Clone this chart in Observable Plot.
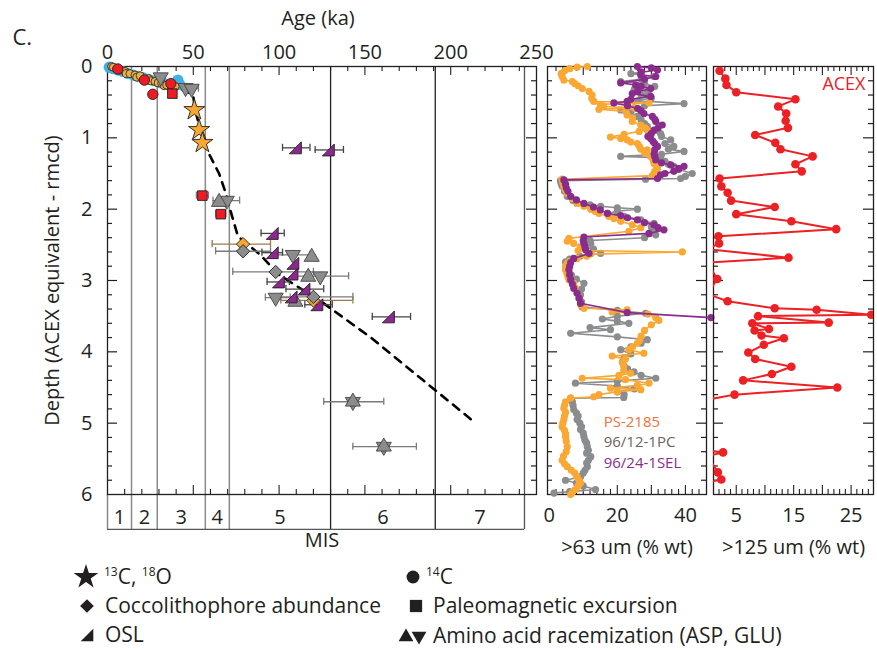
<!DOCTYPE html>
<html><head><meta charset="utf-8">
<script src="https://cdn.jsdelivr.net/npm/d3@7"></script>
<script src="https://cdn.jsdelivr.net/npm/@observablehq/plot@0.6"></script>
<style>
body{margin:0;background:#fff;}
#wrap{position:relative;width:877px;height:650px;overflow:hidden;background:#fff;}
#wrap svg{position:absolute;left:0;top:0;}
</style></head><body><div id="wrap"></div>
<script>
// ---------------- data ----------------
const ageTicks = [0, 50, 100, 150, 200, 250];
const depthTicks = [0, 1, 2, 3, 4, 5, 6];
const misBounds = [0, 14, 29, 57, 71, 130, 191, 243];
const misLabels = ["1", "2", "3", "4", "5", "6", "7"];

// age model (dashed)
const trendAge   = [44, 50, 51, 54, 56, 58, 65, 69, 72, 76, 89, 100, 126, 154, 184, 212];
const trendDepth = [0.29, 0.42, 0.6, 0.88, 1.06, 1.17, 1.5, 1.78, 2.05, 2.38, 2.64, 2.92, 3.32, 3.81, 4.4, 4.95];

// 14C small cluster (blue = background dates, orange = stratigraphic dates)
const blueAge   = [1, 3, 6, 9, 12, 15, 18, 21, 24, 27, 30, 33, 36, 39, 41, 42];
const blueDepth = [0.01, 0.03, 0.05, 0.07, 0.1, 0.12, 0.14, 0.16, 0.18, 0.2, 0.22, 0.24, 0.26, 0.27, 0.19, 0.25];
const tanAge    = [2.4, 3.4, 7.3, 10.2, 11, 13.1, 16, 17, 19, 22.9, 24, 25, 27.7, 29.5, 31.6, 33, 34.5, 37, 39.4];
const tanDepth  = [0.0, 0.01, 0.05, 0.07, 0.1, 0.1, 0.12, 0.15, 0.13, 0.18, 0.17, 0.2, 0.21, 0.23, 0.24, 0.27, 0.26, 0.27, 0.28];

// 14C (red circles)
const c14Age   = [6, 21.5, 36.9, 26.4];
const c14Depth = [0.035, 0.19, 0.24, 0.39];

// 13C, 18O (stars)
const isoAge   = [50.6, 53.4, 55.3];
const isoDepth = [0.61, 0.89, 1.07];

// paleomagnetic excursions (squares)
const pmagAge   = [37.8, 55.3, 66];
const pmagDepth = [0.38, 1.81, 2.07];
const pmagLo    = [null, 51.8, 63];
const pmagHi    = [null, 58.8, 69];

// amino acid racemization (triangles up / down)
const aarUpAge     = [65, 119, 117, 109.5, 143, 161];
const aarUpDepth   = [1.9, 2.67, 2.95, 3.3, 4.7, 5.33];
const aarDownAge   = [31, 45.5, 49, 69.5, 108, 124, 98, 143, 161];
const aarDownDepth = [0.15, 0.3, 0.31, 1.88, 2.64, 2.94, 3.24, 4.7, 5.33];
const aarDownLo    = [null, 43, 45.5, 61.5, 99, 110, 92, 126, 143];
const aarDownHi    = [null, 48, 53, 77, 118, 140.5, 106.5, 161, 180];

// coccolithophore abundance (diamonds)
const coccoOrangeAge   = [79, 120];
const coccoOrangeDepth = [2.49, 3.28];
const coccoOrangeLo    = [61, 101];
const coccoOrangeHi    = [95, 143];
const coccoGrayAge     = [79, 98, 120];
const coccoGrayDepth   = [2.59, 2.88, 3.23];
const coccoGrayLo      = [63, 73, 101];
const coccoGrayHi      = [95, 120, 143];

// OSL (half triangles)
const oslAge   = [109.5, 128.7, 96, 96, 108, 107.5, 99.6, 114.5, 107, 122, 163.7];
const oslDepth = [1.14, 1.17, 2.34, 2.61, 2.76, 2.91, 3.02, 3.12, 3.23, 3.34, 3.51];
const oslLo    = [102, 121, 89.5, 90, null, null, 93, 104, null, 115, 154.3];
const oslHi    = [118, 137.5, 103, 102, null, null, 106, 126, null, 131, 176.6];

// >63 um (% wt) : [depth, value]
const ps2185 = [[0,11.2],[0.01,8.2],[0.03,6],[0.06,4.5],[0.1,3.5],[0.14,3.8],[0.19,4.3],[0.21,6.8],[0.24,7.5],[0.27,8.5],[0.31,9.7],[0.35,11.7],[0.4,12.6],[0.45,12.5],[0.49,13.1],[0.51,29.3],[0.53,15],[0.56,16],[0.58,25],[0.6,14.6],[0.63,22.5],[0.68,22.9],[0.72,24.5],[0.77,24.4],[0.82,26.9],[0.86,28.2],[0.89,28.8],[0.91,26.4],[0.95,22],[0.99,18],[1.01,21],[1.03,22.9],[1.06,24],[1.08,25.9],[1.12,26.5],[1.16,26.9],[1.17,28.8],[1.21,28],[1.26,29.8],[1.31,30.5],[1.36,30.8],[1.4,31.5],[1.43,31.8],[1.47,31],[1.51,30.8],[1.53,30.3],[1.58,3.8],[1.63,4],[1.68,4.3],[1.73,4.8],[1.78,5.3],[1.85,6.8],[1.92,8.2],[1.96,10.2],[2,12.2],[2.03,13.5],[2.06,14.6],[2.1,17.5],[2.13,19],[2.17,21],[2.22,24.4],[2.26,26.9],[2.31,23.4],[2.41,5.8],[2.45,5.3],[2.48,7.2],[2.53,9.2],[2.58,8.5],[2.6,39.1],[2.63,12.2],[2.66,11],[2.69,8.2],[2.73,6],[2.76,5.3],[2.8,4.8],[2.85,4.8],[2.9,5.2],[2.95,5.5],[2.99,5.8],[3.04,7.2],[3.1,7.6],[3.18,8.2],[3.25,8.7],[3.34,9.2],[3.39,10.2],[3.41,22.9],[3.44,18.5],[3.47,29],[3.52,31.3],[3.56,32.2],[3.62,30],[3.7,28],[3.78,27],[3.84,26.5],[3.88,25.9],[3.93,24.5],[3.97,23.4],[4.02,27.8],[4.06,18.5],[4.1,22.4],[4.15,21.5],[4.2,21.9],[4.26,21.9],[4.3,23.9],[4.33,20.5],[4.37,9.7],[4.39,22.4],[4.44,29.3],[4.47,25.9],[4.51,18],[4.53,26.9],[4.56,20],[4.6,14.6],[4.63,13.1],[4.65,6.3],[4.7,4.8],[4.75,4.5],[4.79,4.3],[4.85,4.8],[4.9,4.5],[4.95,4.3],[5,4],[5.05,3.8],[5.1,4.5],[5.15,4.8],[5.19,4.8],[5.25,5],[5.33,5.3],[5.4,5],[5.46,4.2],[5.52,3.8],[5.57,4.5],[5.61,5.3],[5.66,6.5],[5.7,7.5],[5.75,8.2],[5.8,8.8],[5.84,9.2],[5.88,8.5],[5.93,7.7],[5.97,6.8],[6,6.3]];
const pc9612 = [[0.08,27],[0.1,24],[0.14,30.8],[0.18,27],[0.21,21],[0.24,28],[0.28,31],[0.32,25],[0.36,29],[0.4,27],[0.44,30],[0.48,26],[0.52,39.6],[0.55,28],[0.58,25],[0.61,21],[0.65,24],[0.7,25.9],[0.75,27],[0.8,28],[0.84,28.8],[0.9,31],[0.94,32.7],[0.98,33],[1.03,35.7],[1.08,34],[1.12,36.6],[1.16,35],[1.19,39.6],[1.23,33],[1.26,21],[1.28,32.7],[1.33,34],[1.37,35],[1.4,36.6],[1.44,38],[1.5,42],[1.54,40],[1.57,38.6],[1.58,28.3],[1.6,3.3],[1.64,3.5],[1.68,3.8],[1.75,4.5],[1.82,5.3],[1.88,7],[1.92,8.2],[1.94,12],[1.96,15.1],[1.98,20],[2,25.9],[2.03,20],[2.06,17.1],[2.1,22],[2.15,26.9],[2.2,30.8],[2.25,30],[2.3,31],[2.36,31.3],[2.4,28],[2.44,12],[2.48,12.2],[2.52,10],[2.56,13],[2.62,15.1],[2.66,9],[2.7,6],[2.74,4.8],[2.8,5],[2.85,5.3],[2.92,6.5],[2.98,8],[3.04,10.2],[3.12,9.5],[3.2,9.2],[3.3,9.5],[3.37,9.7],[3.42,20],[3.46,28.3],[3.5,20],[3.54,15.6],[3.57,20],[3.6,23.4],[3.66,12],[3.69,18],[3.74,6.3],[3.79,20],[3.83,28.8],[3.88,27],[3.93,24],[3.97,21],[4.03,24],[4.08,22],[4.14,21.5],[4.2,22],[4.24,23],[4.28,24.9],[4.33,27],[4.37,31.3],[4.41,20],[4.44,7.7],[4.48,20],[4.52,25],[4.56,20],[4.6,22],[4.64,21.9],[4.65,6.3],[4.7,6.8],[4.75,7],[4.81,7.2],[4.86,8],[4.9,8.5],[4.95,8.2],[5,9],[5.05,9.5],[5.09,9.2],[5.14,10],[5.19,10.2],[5.24,10.5],[5.28,11],[5.33,11.2],[5.38,11.5],[5.42,11],[5.47,12.2],[5.52,11.5],[5.56,11],[5.61,11.2],[5.66,10.5],[5.7,10],[5.75,9.2],[5.8,4.8],[5.84,8],[5.88,10],[5.93,13.6],[5.96,6],[5.98,1.4]];
const sel9624 = [[0,25.9],[0.02,30],[0.05,31.8],[0.08,27],[0.12,26.9],[0.14,31.3],[0.18,28],[0.23,21],[0.26,25.4],[0.28,27],[0.31,29.8],[0.35,26],[0.38,24.4],[0.42,29.8],[0.46,24],[0.49,22.9],[0.51,19],[0.55,23],[0.59,26],[0.62,27],[0.66,27.8],[0.7,30.3],[0.74,31],[0.77,31.3],[0.82,33.2],[0.86,32],[0.89,30.8],[0.94,30],[0.98,29],[1.01,29.8],[1.05,30.5],[1.08,31],[1.12,31.8],[1.17,31],[1.22,30.8],[1.26,31],[1.31,31.3],[1.35,33],[1.38,35.7],[1.4,39.6],[1.44,38],[1.47,36.6],[1.5,34],[1.52,32.7],[1.57,31.8],[1.59,4.3],[1.65,4.8],[1.7,5],[1.75,5.5],[1.82,6.3],[1.87,8],[1.92,10.2],[1.97,13],[2.01,15],[2.06,17.1],[2.09,21],[2.12,23],[2.15,25.9],[2.19,28],[2.22,30.8],[2.26,32],[2.29,33.7],[2.34,29.3],[2.39,10.2],[2.44,10],[2.48,10.2],[2.53,10.5],[2.57,10.7],[2.62,11.7],[2.69,7.2],[2.75,6.3],[2.8,6],[2.85,5.8],[2.92,6],[2.99,6.3],[3.05,6.8],[3.11,7.2],[3.18,8.2],[3.25,8.8],[3.32,9.2],[3.45,22.9],[3.52,47.5]];
const p2Ticks = [0, 20, 40];
const p2SeriesNames = ["PS-2185", "96/12-1PC", "96/24-1SEL"];

// >125 um (% wt) ACEX : [depth, value]
const acex = [[0.06,2.1],[0.17,3.1],[0.26,3.3],[0.36,5],[0.46,15.3],[0.56,12.3],[0.66,13.7],[0.76,13.6],[0.86,14],[0.96,8.3],[1.07,11.8],[1.16,12.7],[1.26,18.3],[1.37,15.3],[1.47,16.4],[1.57,2.1],[1.68,2.4],[1.77,3.5],[1.88,4.1],[1.97,11.7],[2.07,5],[2.17,14.6],[2.28,22.4],[2.38,1.9],[2.48,2],[2.56,0],[2.68,14.1],[2.75,0],[2.98,1.7],[3.19,0],[3.29,3.5],[3.39,11.7],[3.41,19],[3.48,28.5],[3.5,8.8],[3.59,21.1],[3.6,7.8],[3.68,10.7],[3.7,8.2],[3.77,9.4],[3.81,13.3],[3.9,9.8],[4.01,7.1],[4.1,8.3],[4.21,14.6],[4.31,11.2],[4.4,6.2],[4.5,22.6],[4.6,4.7],[4.67,0],[5.38,0],[5.41,2.7],[5.46,0],[5.69,1.8],[5.79,2.4],[5.83,0]];
const p3Ticks = [5, 15, 25];

// ---------------- layout / style ----------------
const W = 877, H = 650;
const FONT = '"Open Sans", sans-serif';
const INK = "#231f20";
const TOP = 66, BOT = 494;
const MAIN_L = 107, MAIN_R = 536;
const P2_L = 547, P2_R = 706;
const P3_L = 713, P3_R = 873;
const mPerPx = 6 / (BOT - TOP);
const svgStyle = {background: "transparent", fontFamily: FONT, fontSize: "20px", color: INK, overflow: "visible"};

const pts = (xs, ys) => xs.map((x, i) => ({x, d: ys[i]}));
const bars = (xs, ys, lo, hi) => xs.map((x, i) => lo[i] == null ? null : {x1: lo[i], x2: hi[i], d: ys[i]}).filter(Boolean);
const errMarks = (b, stroke) => [
  Plot.ruleY(b, {y: "d", x1: "x1", x2: "x2", stroke, strokeWidth: 1.3}),
  Plot.ruleX(b.flatMap(o => [{x: o.x1, d: o.d}, {x: o.x2, d: o.d}]), {x: "x", y1: o => o.d - 0.05, y2: o => o.d + 0.05, stroke, strokeWidth: 1.3})
];
// OSL half-triangle symbol
const oslSymbol = {draw(ctx, size) { const a = Math.sqrt(size) * 0.6; ctx.moveTo(a, a); ctx.lineTo(-a, a); ctx.lineTo(a, -a); ctx.closePath(); }};

// inward tick helpers
function frameTicks(x0, x1, kPerPx, xMinor, xMajor) {
  const dMinor = d3.range(1, 30).map(i => i / 5).filter(v => v % 1 !== 0);
  const dMajor = [1, 2, 3, 4, 5];
  return [
    Plot.ruleY(dMinor, {x1: x0, x2: x0 + 5 * kPerPx, stroke: INK, strokeWidth: 1.2}),
    Plot.ruleY(dMajor, {x1: x0, x2: x0 + 10 * kPerPx, stroke: INK, strokeWidth: 1.2}),
    Plot.ruleY(dMinor, {x1: x1, x2: x1 - 5 * kPerPx, stroke: INK, strokeWidth: 1.2}),
    Plot.ruleY(dMajor, {x1: x1, x2: x1 - 10 * kPerPx, stroke: INK, strokeWidth: 1.2}),
    Plot.ruleX(xMinor, {y1: 0, y2: 5 * mPerPx, stroke: INK, strokeWidth: 1.1}),
    Plot.ruleX(xMajor, {y1: 0, y2: 9 * mPerPx, stroke: INK, strokeWidth: 1.1}),
    Plot.ruleX(xMinor, {y1: 6, y2: 6 - 5 * mPerPx, stroke: INK, strokeWidth: 1.1}),
    Plot.ruleX(xMajor, {y1: 6, y2: 6 - 9 * mPerPx, stroke: INK, strokeWidth: 1.1})
  ];
}

const wrap = document.getElementById("wrap");

// ---------------- main panel ----------------
const misStages = misLabels.map((label, i) => ({label, a: misBounds[i], b: misBounds[i + 1]}));
const kaPerPx = 250 / (MAIN_R - MAIN_L);
const symStroke = {stroke: INK, strokeWidth: 0.9};

const main = Plot.plot({
  width: W, height: H,
  marginLeft: MAIN_L, marginRight: W - MAIN_R, marginTop: TOP, marginBottom: H - BOT,
  x: {domain: [0, 250]},
  y: {domain: [0, 6], reverse: true},
  style: svgStyle,
  marks: [
    Plot.ruleX(misBounds.slice(1, 5), {y1: 0, y2: 6.49, stroke: "#8a8a8a", strokeWidth: 1.5}),
    Plot.ruleX(misBounds.slice(5, 7), {y1: 0, y2: 6.49, stroke: INK, strokeWidth: 1.3}),
    Plot.ruleX(misBounds.slice(7), {y1: 0, y2: 6.49, stroke: "#555", strokeWidth: 1.3}),
    Plot.ruleX(misBounds.slice(0, 1), {y1: 6, y2: 6.49, stroke: "#8a8a8a", strokeWidth: 1.5}),
    Plot.ruleY([6.49], {x1: misBounds[0], x2: misBounds[7], stroke: "#555", strokeWidth: 1.3}),
    Plot.text(misStages, {x: d => (d.a + d.b) / 2, y: 6.33, text: "label", fontSize: 20, fill: INK}),
    Plot.text(["MIS"], {frameAnchor: "bottom", dy: 46, lineAnchor: "middle", text: d => d, fontSize: 20, fill: INK}),
    ...frameTicks(0, 250, kaPerPx, d3.range(10, 250, 10).filter(v => v % 50), d3.range(50, 250, 50)),
    Plot.frame({stroke: INK, strokeWidth: 1.3}),
    Plot.axisX(ageTicks, {anchor: "top", tickSize: 0, tickPadding: 8, label: null, fontSize: 20, fill: INK, tickFormat: d => String(d)}),
    Plot.axisY(depthTicks, {anchor: "left", tickSize: 0, tickPadding: 15, label: null, fontSize: 20, fill: INK, tickFormat: d => String(d)}),
    Plot.text(["Age (ka)"], {frameAnchor: "top", dx: -4, dy: -48, lineAnchor: "middle", text: d => d, fontSize: 20, fill: INK}),
    Plot.text(["Depth (ACEX equivalent - rmcd)"], {frameAnchor: "left", rotate: -90, dx: -55, lineAnchor: "middle", textAnchor: "middle", text: d => d, fontSize: 20, fill: INK}),
    Plot.text(["C."], {frameAnchor: "top-left", dx: -95, dy: -29, textAnchor: "start", lineAnchor: "middle", text: d => d, fontSize: 22, fill: INK}),
    // age model
    Plot.line(pts(trendAge, trendDepth), {x: "x", y: "d", stroke: "#000", strokeWidth: 2.6, strokeDasharray: "8,7"}),
    // error bars
    ...errMarks(bars(coccoOrangeAge, coccoOrangeDepth, coccoOrangeLo, coccoOrangeHi), "#9c7a4c"),
    ...errMarks(bars(coccoGrayAge, coccoGrayDepth, coccoGrayLo, coccoGrayHi), "#7a7a7a"),
    ...errMarks(bars(aarDownAge, aarDownDepth, aarDownLo, aarDownHi), "#7a7a7a"),
    ...errMarks(bars(oslAge, oslDepth, oslLo, oslHi), "#444"),
    ...errMarks(bars(pmagAge, pmagDepth, pmagLo, pmagHi), "#7a7a7a"),
    // 14C cluster
    Plot.dot(pts(blueAge, blueDepth), {x: "x", y: "d", r: 5.6, fill: "#3fb2e6"}),
    Plot.dot(pts(tanAge, tanDepth), {x: "x", y: "d", r: 4, fill: "#e8b04a", stroke: INK, strokeWidth: 0.8}),
    // symbols
    Plot.dot(pts(coccoOrangeAge, coccoOrangeDepth), {x: "x", y: "d", symbol: "diamond2", r: 6, fill: "#f7a833", ...symStroke}),
    Plot.dot(pts(coccoGrayAge, coccoGrayDepth), {x: "x", y: "d", symbol: "diamond2", r: 6, fill: "#8c8c8c", ...symStroke}),
    Plot.dot(pts(aarDownAge, aarDownDepth), {x: "x", y: "d", symbol: "triangle", rotate: 180, r: 5.6, fill: "#8c8c8c", stroke: "#444", strokeWidth: 0.9}),
    Plot.dot(pts(aarUpAge, aarUpDepth), {x: "x", y: "d", symbol: "triangle", r: 5.6, fill: "#8c8c8c", stroke: "#444", strokeWidth: 0.9}),
    Plot.dot(pts(oslAge, oslDepth), {x: "x", y: "d", symbol: oslSymbol, r: 5.6, fill: "#8e278f", ...symStroke}),
    Plot.dot(pts(pmagAge, pmagDepth), {x: "x", y: "d", symbol: "square", r: 5.4, fill: "#ed1c24", ...symStroke}),
    Plot.dot(pts(c14Age, c14Depth), {x: "x", y: "d", r: 5.2, fill: "#ed1c24", ...symStroke}),
    Plot.dot(pts(isoAge, isoDepth), {x: "x", y: "d", symbol: "star", r: 6.6, fill: "#f7a833", ...symStroke})
  ]
});
wrap.appendChild(main);

// ---------------- panel 2 : >63 um ----------------
const toObj = arr => arr.map(([d, v]) => ({d, v}));
const p2k = 46.7 / (P2_R - P2_L);
const p2Colors = ["#f9a833", "#8b8c8e", "#8a2c8c"];
const p2Label = ["#f37037", "#6f6360", "#8a2c8c"];
const seriesMarks = (data, color, r, sw, extra = {}) => [
  Plot.line(toObj(data), {x: "v", y: "d", stroke: color, strokeWidth: sw, ...extra}),
  Plot.dot(toObj(data), {x: "v", y: "d", r, fill: color, ...extra})
];
const p2 = Plot.plot({
  width: W, height: H,
  marginLeft: P2_L, marginRight: W - P2_R, marginTop: TOP, marginBottom: H - BOT,
  x: {domain: [-0.5, 46.2]},
  y: {domain: [0, 6], reverse: true, axis: null},
  style: svgStyle,
  marks: [
    ...frameTicks(-0.5, 46.2, p2k, d3.range(2, 46, 2).filter(v => v % 10), [10, 20, 30, 40]),
    Plot.frame({stroke: INK, strokeWidth: 1.3}),
    Plot.axisX(p2Ticks, {anchor: "bottom", tickSize: 0, tickPadding: 13, label: null, fontSize: 20, fill: INK}),
    Plot.text([">63 um (% wt)"], {frameAnchor: "bottom", dy: 53, lineAnchor: "middle", text: d => d, fontSize: 20, fill: INK}),
    ...seriesMarks(pc9612, p2Colors[1], 3.6, 1.6),
    ...seriesMarks(ps2185, p2Colors[0], 3.6, 1.6),
    ...seriesMarks(sel9624, p2Colors[2], 3.6, 1.6),
    Plot.text(p2SeriesNames, {x: 16, y: (d, i) => 4.98 + i * 0.29, text: d => d, textAnchor: "start", lineAnchor: "middle", fontSize: 15, fill: (d, i) => p2Label[i]})
  ]
});
wrap.appendChild(p2);

// ---------------- panel 3 : >125 um ----------------
const p3k = (28.9 - 1.04) / (P3_R - P3_L);
const p3 = Plot.plot({
  width: W, height: H,
  marginLeft: P3_L, marginRight: W - P3_R, marginTop: TOP, marginBottom: H - BOT,
  x: {domain: [1.04, 28.9]},
  y: {domain: [0, 6], reverse: true, axis: null},
  style: svgStyle,
  marks: [
    ...frameTicks(1.04, 28.9, p3k, d3.range(2, 29, 1).filter(v => v % 5), [5, 10, 15, 20, 25]),
    Plot.frame({stroke: INK, strokeWidth: 1.3}),
    Plot.axisX(p3Ticks, {anchor: "bottom", tickSize: 0, tickPadding: 13, label: null, fontSize: 20, fill: INK}),
    Plot.text([">125 um (% wt)"], {frameAnchor: "bottom", dy: 53, lineAnchor: "middle", text: d => d, fontSize: 20, fill: INK}),
    ...seriesMarks(acex, "#ed2024", 4.3, 2, {clip: true}),
    Plot.text(["ACEX"], {frameAnchor: "top-right", dx: -8, dy: 18, textAnchor: "end", lineAnchor: "middle", text: d => d, fontSize: 18, fill: "#ed2024"})
  ]
});
wrap.appendChild(p3);

// ---------------- symbol legend ----------------
const leg = d3.create("svg").attr("width", W).attr("height", H)
  .style("font-family", FONT).style("font-size", "21px").attr("fill", INK);
const sym = (type, size, x, y, rot = 0) => leg.append("path")
  .attr("d", d3.symbol(type, size)()).attr("transform", `translate(${x},${y}) rotate(${rot})`).attr("fill", INK);
const txt = (x, y, parts) => {
  const t = leg.append("text").attr("x", x).attr("y", y + 7);
  parts.forEach(([s, sup]) => t.append("tspan").text(s).attr("font-size", sup ? 12 : null).attr("dy", sup ? -8 : null)
    .each(function () { if (!sup && this.previousSibling) d3.select(this).attr("dy", 8); }));
};
const rows = [577, 606, 635];
sym(d3.symbolStar, 190, 86, rows[0]);
txt(104, rows[0], [["13", true], ["C, ", false], ["18", true], ["O", false]]);
sym(d3.symbolDiamond2, 120, 87, rows[1]);
txt(105, rows[1], [["Coccolithophore abundance", false]]);
sym(oslSymbol, 110, 87, rows[2]);
txt(105, rows[2], [["OSL", false]]);
sym(d3.symbolCircle, 130, 413, rows[0]);
txt(426, rows[0], [["14", true], ["C", false]]);
sym(d3.symbolSquare, 150, 416, rows[1]);
txt(433, rows[1], [["Paleomagnetic excursion", false]]);
sym(d3.symbolTriangle, 95, 406, rows[2] + 2);
sym(d3.symbolTriangle, 95, 419, rows[2] + 1, 180);
txt(433, rows[2] + 1, [["Amino acid racemization (ASP, GLU)", false]]);
wrap.appendChild(leg.node());
</script></body></html>
